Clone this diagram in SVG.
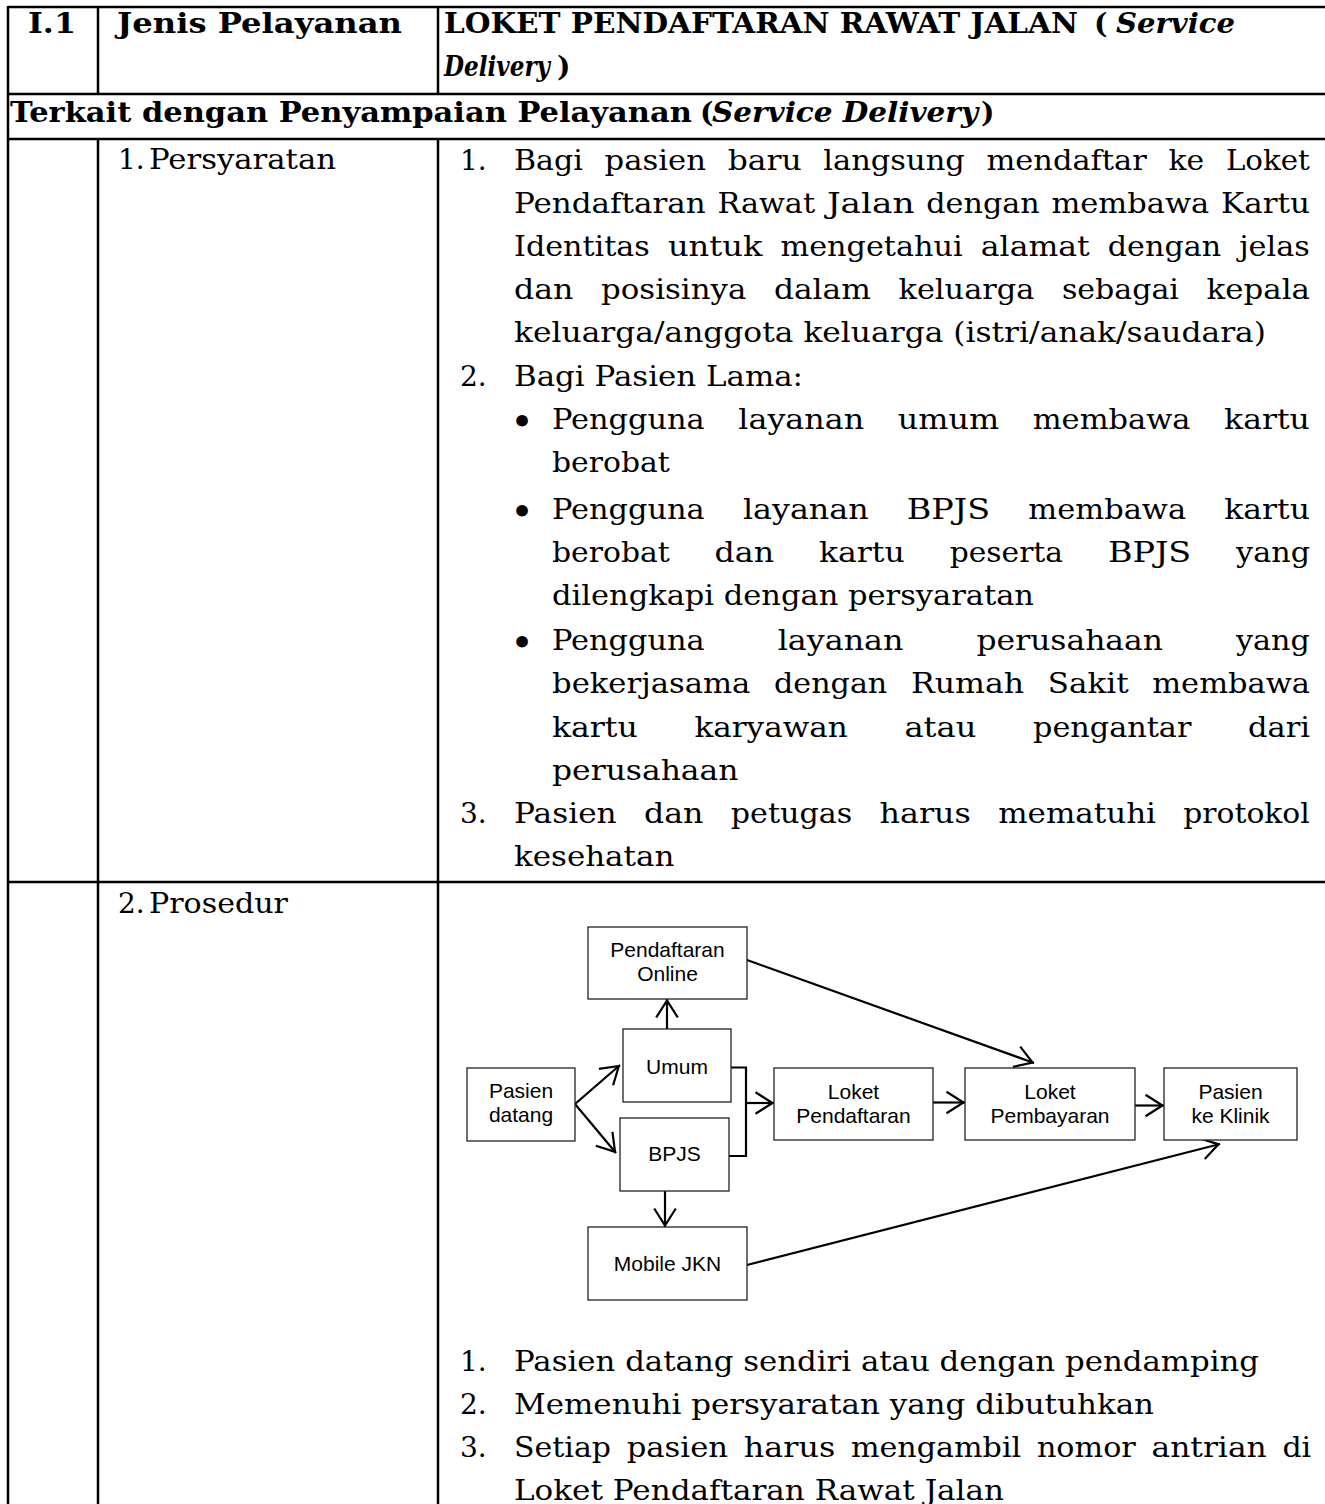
<svg xmlns="http://www.w3.org/2000/svg" width="1325" height="1504" viewBox="0 0 1325 1504">
  <defs>
    <style>
      .t { font-family: "DejaVu Serif", "Liberation Serif", serif; font-size: 28px; fill: #000; }
      .b { font-weight: bold; font-size: 28.5px; }
      .bi { font-weight: bold; font-style: italic; font-size: 28.5px; }
      .bul { font-family: "DejaVu Serif", "Liberation Serif", serif; font-size: 40px; text-anchor: middle; }
      .grid line { stroke: #000; stroke-width: 2.5; }
      .node rect { fill: #fff; stroke: #222; stroke-width: 1.3; }
      .node text { font-family: "Liberation Sans", Arial, sans-serif; font-size: 21px; text-anchor: middle; fill: #000; }
      .conn path { fill: none; stroke: #000; stroke-width: 2.2; }
    </style>
    <marker id="open" viewBox="-20 -13 22 26" refX="1.5" refY="0" markerWidth="22" markerHeight="26" markerUnits="userSpaceOnUse" orient="auto">
      <path d="M-17,-10.8 L0,0 L-17,10.8" fill="none" stroke="#000" stroke-width="2.2"/>
    </marker>
  </defs>

  <rect x="0" y="0" width="1325" height="1504" fill="#fff"/>

  <!-- table rules -->
  <g class="grid">
    <line x1="8" y1="7" x2="1325" y2="7"/>
    <line x1="8" y1="94" x2="1325" y2="94"/>
    <line x1="8" y1="139" x2="1325" y2="139"/>
    <line x1="8" y1="882" x2="1325" y2="882"/>
    <line x1="8" y1="6" x2="8" y2="1504"/>
    <line x1="98" y1="7" x2="98" y2="94"/>
    <line x1="438" y1="7" x2="438" y2="94"/>
    <line x1="98" y1="139" x2="98" y2="1504"/>
    <line x1="438" y1="139" x2="438" y2="1504"/>
  </g>

  <!-- header row -->
  <g id="header">
    <text class="t b" x="28" y="33" textLength="48" lengthAdjust="spacingAndGlyphs">I.1</text>
    <text class="t b" x="117" y="33" textLength="285" lengthAdjust="spacingAndGlyphs">Jenis Pelayanan</text>
    <text class="t b" y="33"><tspan x="444" textLength="634" lengthAdjust="spacingAndGlyphs">LOKET PENDAFTARAN RAWAT JALAN</tspan> <tspan x="1094">(</tspan><tspan class="bi" x="1116" textLength="119" lengthAdjust="spacingAndGlyphs">Service</tspan></text>
    <text class="t b" y="76"><tspan class="bi" x="444" textLength="106" lengthAdjust="spacingAndGlyphs">Delivery</tspan><tspan x="557">)</tspan></text>
    <text class="t b" y="122"><tspan x="10" textLength="682" lengthAdjust="spacingAndGlyphs">Terkait dengan Penyampaian Pelayanan</tspan> <tspan x="700">(</tspan><tspan class="bi" x="712" textLength="266" lengthAdjust="spacingAndGlyphs">Service Delivery</tspan><tspan x="981">)</tspan></text>
  </g>

  <!-- row 1: Persyaratan -->
  <g id="persyaratan">
    <text class="t" y="169"><tspan x="118">1.</tspan> <tspan x="149" textLength="187" lengthAdjust="spacingAndGlyphs">Persyaratan</tspan></text>

    <text class="t" x="460" y="170">1.</text>
    <text class="t" y="170"><tspan x="514" textLength="68.9" lengthAdjust="spacingAndGlyphs">Bagi</tspan> <tspan x="604.6" textLength="101.4" lengthAdjust="spacingAndGlyphs">pasien</tspan> <tspan x="727.7" textLength="73.9" lengthAdjust="spacingAndGlyphs">baru</tspan> <tspan x="823.3" textLength="141.5" lengthAdjust="spacingAndGlyphs">langsung</tspan> <tspan x="986.5" textLength="160.3" lengthAdjust="spacingAndGlyphs">mendaftar</tspan> <tspan x="1168.5" textLength="35.7" lengthAdjust="spacingAndGlyphs">ke</tspan> <tspan x="1225.9" textLength="83.9" lengthAdjust="spacingAndGlyphs">Loket</tspan></text>
    <text class="t" y="213"><tspan x="514" textLength="191.6" lengthAdjust="spacingAndGlyphs">Pendaftaran</tspan> <tspan x="717.4" textLength="97.7" lengthAdjust="spacingAndGlyphs">Rawat</tspan> <tspan x="826.9" textLength="87.6" lengthAdjust="spacingAndGlyphs">Jalan</tspan> <tspan x="926.3" textLength="113.3" lengthAdjust="spacingAndGlyphs">dengan</tspan> <tspan x="1051.4" textLength="157.8" lengthAdjust="spacingAndGlyphs">membawa</tspan> <tspan x="1221" textLength="88.9" lengthAdjust="spacingAndGlyphs">Kartu</tspan></text>
    <text class="t" y="256"><tspan x="514" textLength="135.8" lengthAdjust="spacingAndGlyphs">Identitas</tspan> <tspan x="667.9" textLength="94.5" lengthAdjust="spacingAndGlyphs">untuk</tspan> <tspan x="780.5" textLength="182.2" lengthAdjust="spacingAndGlyphs">mengetahui</tspan> <tspan x="980.8" textLength="108.9" lengthAdjust="spacingAndGlyphs">alamat</tspan> <tspan x="1107.8" textLength="113.3" lengthAdjust="spacingAndGlyphs">dengan</tspan> <tspan x="1239.2" textLength="70.7" lengthAdjust="spacingAndGlyphs">jelas</tspan></text>
    <text class="t" y="299"><tspan x="514" textLength="59.5" lengthAdjust="spacingAndGlyphs">dan</tspan> <tspan x="601.1" textLength="145.2" lengthAdjust="spacingAndGlyphs">posisinya</tspan> <tspan x="773.9" textLength="97" lengthAdjust="spacingAndGlyphs">dalam</tspan> <tspan x="898.5" textLength="135.8" lengthAdjust="spacingAndGlyphs">keluarga</tspan> <tspan x="1061.9" textLength="117.1" lengthAdjust="spacingAndGlyphs">sebagai</tspan> <tspan x="1206.6" textLength="103.3" lengthAdjust="spacingAndGlyphs">kepala</tspan></text>
    <text class="t" x="514" y="342" textLength="752" lengthAdjust="spacingAndGlyphs">keluarga/anggota keluarga (istri/anak/saudara)</text>

    <text class="t" x="460" y="386">2.</text>
    <text class="t" x="514" y="386" textLength="289" lengthAdjust="spacingAndGlyphs">Bagi Pasien Lama:</text>

    <text class="bul" x="522" y="435">•</text>
    <text class="t" y="429"><tspan x="552" textLength="152.7" lengthAdjust="spacingAndGlyphs">Pengguna</tspan> <tspan x="738.3" textLength="125.8" lengthAdjust="spacingAndGlyphs">layanan</tspan> <tspan x="897.7" textLength="101.4" lengthAdjust="spacingAndGlyphs">umum</tspan> <tspan x="1032.7" textLength="157.8" lengthAdjust="spacingAndGlyphs">membawa</tspan> <tspan x="1224.1" textLength="85.8" lengthAdjust="spacingAndGlyphs">kartu</tspan></text>
    <text class="t" x="552" y="472" textLength="117.7" lengthAdjust="spacingAndGlyphs">berobat</text>

    <text class="bul" x="522" y="525">•</text>
    <text class="t" y="519"><tspan x="552" textLength="152.7" lengthAdjust="spacingAndGlyphs">Pengguna</tspan> <tspan x="742.9" textLength="125.8" lengthAdjust="spacingAndGlyphs">layanan</tspan> <tspan x="906.8" textLength="83.3" lengthAdjust="spacingAndGlyphs">BPJS</tspan> <tspan x="1028.3" textLength="157.8" lengthAdjust="spacingAndGlyphs">membawa</tspan> <tspan x="1224.2" textLength="85.8" lengthAdjust="spacingAndGlyphs">kartu</tspan></text>
    <text class="t" y="562"><tspan x="552" textLength="117.7" lengthAdjust="spacingAndGlyphs">berobat</tspan> <tspan x="714.6" textLength="59.5" lengthAdjust="spacingAndGlyphs">dan</tspan> <tspan x="819" textLength="85.8" lengthAdjust="spacingAndGlyphs">kartu</tspan> <tspan x="949.7" textLength="113.3" lengthAdjust="spacingAndGlyphs">peserta</tspan> <tspan x="1107.9" textLength="83.3" lengthAdjust="spacingAndGlyphs">BPJS</tspan> <tspan x="1236.1" textLength="73.9" lengthAdjust="spacingAndGlyphs">yang</tspan></text>
    <text class="t" x="552" y="605" textLength="482" lengthAdjust="spacingAndGlyphs">dilengkapi dengan persyaratan</text>

    <text class="bul" x="522" y="656">•</text>
    <text class="t" y="650"><tspan x="552" textLength="152.7" lengthAdjust="spacingAndGlyphs">Pengguna</tspan> <tspan x="777.7" textLength="125.8" lengthAdjust="spacingAndGlyphs">layanan</tspan> <tspan x="976.5" textLength="186.5" lengthAdjust="spacingAndGlyphs">perusahaan</tspan> <tspan x="1236" textLength="73.9" lengthAdjust="spacingAndGlyphs">yang</tspan></text>
    <text class="t" y="693"><tspan x="552" textLength="198.4" lengthAdjust="spacingAndGlyphs">bekerjasama</tspan> <tspan x="774" textLength="113.3" lengthAdjust="spacingAndGlyphs">dengan</tspan> <tspan x="910.9" textLength="113.3" lengthAdjust="spacingAndGlyphs">Rumah</tspan> <tspan x="1047.8" textLength="80.8" lengthAdjust="spacingAndGlyphs">Sakit</tspan> <tspan x="1152.2" textLength="157.8" lengthAdjust="spacingAndGlyphs">membawa</tspan></text>
    <text class="t" y="737"><tspan x="552" textLength="85.8" lengthAdjust="spacingAndGlyphs">kartu</tspan> <tspan x="694.4" textLength="153.4" lengthAdjust="spacingAndGlyphs">karyawan</tspan> <tspan x="904.4" textLength="72" lengthAdjust="spacingAndGlyphs">atau</tspan> <tspan x="1033" textLength="158.4" lengthAdjust="spacingAndGlyphs">pengantar</tspan> <tspan x="1248" textLength="62" lengthAdjust="spacingAndGlyphs">dari</tspan></text>
    <text class="t" x="552" y="780" textLength="186.5" lengthAdjust="spacingAndGlyphs">perusahaan</text>

    <text class="t" x="460" y="823">3.</text>
    <text class="t" y="823"><tspan x="514" textLength="102.7" lengthAdjust="spacingAndGlyphs">Pasien</tspan> <tspan x="644" textLength="59.5" lengthAdjust="spacingAndGlyphs">dan</tspan> <tspan x="730.8" textLength="121.4" lengthAdjust="spacingAndGlyphs">petugas</tspan> <tspan x="879.5" textLength="91.4" lengthAdjust="spacingAndGlyphs">harus</tspan> <tspan x="998.2" textLength="157.8" lengthAdjust="spacingAndGlyphs">mematuhi</tspan> <tspan x="1183.3" textLength="126.5" lengthAdjust="spacingAndGlyphs">protokol</tspan></text>
    <text class="t" x="514" y="866" textLength="160.3" lengthAdjust="spacingAndGlyphs">kesehatan</text>
  </g>

  <!-- row 2: Prosedur -->
  <g id="prosedur">
    <text class="t" y="913"><tspan x="118">2.</tspan> <tspan x="149" textLength="139" lengthAdjust="spacingAndGlyphs">Prosedur</tspan></text>

    <text class="t" x="460" y="1371">1.</text>
    <text class="t" x="514" y="1371" textLength="745" lengthAdjust="spacingAndGlyphs">Pasien datang sendiri atau dengan pendamping</text>
    <text class="t" x="460" y="1414">2.</text>
    <text class="t" x="514" y="1414" textLength="640" lengthAdjust="spacingAndGlyphs">Memenuhi persyaratan yang dibutuhkan</text>
    <text class="t" x="460" y="1457">3.</text>
    <text class="t" y="1457"><tspan x="514" textLength="97" lengthAdjust="spacingAndGlyphs">Setiap</tspan> <tspan x="626.7" textLength="101.4" lengthAdjust="spacingAndGlyphs">pasien</tspan> <tspan x="743.8" textLength="91.4" lengthAdjust="spacingAndGlyphs">harus</tspan> <tspan x="850.9" textLength="170.3" lengthAdjust="spacingAndGlyphs">mengambil</tspan> <tspan x="1036.9" textLength="98.9" lengthAdjust="spacingAndGlyphs">nomor</tspan> <tspan x="1151.5" textLength="115.2" lengthAdjust="spacingAndGlyphs">antrian</tspan> <tspan x="1282.4" textLength="28.8" lengthAdjust="spacingAndGlyphs">di</tspan></text>
    <text class="t" x="514" y="1500" textLength="490" lengthAdjust="spacingAndGlyphs">Loket Pendaftaran Rawat Jalan</text>
  </g>

  <!-- flow connectors -->
  <g class="conn">
    <path d="M575,1104 L620,1065" marker-end="url(#open)"/>
    <path d="M575,1104 L616,1153" marker-end="url(#open)"/>
    <path d="M667,1029 L667,999" marker-end="url(#open)"/>
    <path d="M731,1067.5 H746 V1156 H729"/>
    <path d="M746,1103 L774,1103" marker-end="url(#open)"/>
    <path d="M933,1102.5 L965,1102.5" marker-end="url(#open)"/>
    <path d="M1135,1105.5 L1164,1105.5" marker-end="url(#open)"/>
    <path d="M665,1191 L665,1227" marker-end="url(#open)"/>
    <path d="M747,960 L1034,1063" marker-end="url(#open)"/>
    <path d="M747,1265 L1220,1144" marker-end="url(#open)"/>
  </g>

  <!-- flow nodes -->
  <g id="node-online" class="node">
    <rect x="588" y="927" width="159" height="72"/>
    <text x="667.5" y="957">Pendaftaran</text>
    <text x="667.5" y="981">Online</text>
  </g>
  <g id="node-umum" class="node">
    <rect x="623" y="1029" width="108" height="73"/>
    <text x="677" y="1074">Umum</text>
  </g>
  <g id="node-pasien" class="node">
    <rect x="467" y="1068" width="108" height="73"/>
    <text x="521" y="1098">Pasien</text>
    <text x="521" y="1122">datang</text>
  </g>
  <g id="node-bpjs" class="node">
    <rect x="620" y="1118" width="109" height="73"/>
    <text x="674.5" y="1161">BPJS</text>
  </g>
  <g id="node-loket-daftar" class="node">
    <rect x="774" y="1068" width="159" height="72"/>
    <text x="853.5" y="1099">Loket</text>
    <text x="853.5" y="1123">Pendaftaran</text>
  </g>
  <g id="node-loket-bayar" class="node">
    <rect x="965" y="1068" width="170" height="72"/>
    <text x="1050" y="1099">Loket</text>
    <text x="1050" y="1123">Pembayaran</text>
  </g>
  <g id="node-klinik" class="node">
    <rect x="1164" y="1068" width="133" height="72"/>
    <text x="1230.5" y="1099">Pasien</text>
    <text x="1230.5" y="1123">ke Klinik</text>
  </g>
  <g id="node-mobile" class="node">
    <rect x="588" y="1227" width="159" height="73"/>
    <text x="667.5" y="1271">Mobile JKN</text>
  </g>
</svg>
